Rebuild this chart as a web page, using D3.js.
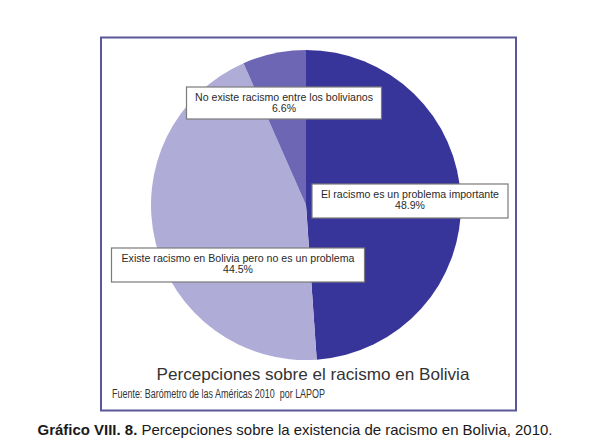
<!DOCTYPE html>
<html>
<head>
<meta charset="utf-8">
<script src="https://cdn.jsdelivr.net/npm/d3@7"></script>
<style>
  html, body { margin: 0; padding: 0; background: #ffffff; }
  svg { display: block; font-family: "Liberation Sans", Arial, sans-serif; }
  text { white-space: pre; }
</style>
</head>
<body>
<svg id="chart" width="589" height="443"></svg>
<script>
// ---- data ----
const categories = [
  "El racismo es un problema importante",
  "Existe racismo en Bolivia pero no es un problema",
  "No existe racismo entre los bolivianos"
];
const values = [48.9, 44.5, 6.6];
const valueLabels = ["48.9%", "44.5%", "6.6%"];
const chartTitle = "Percepciones sobre el racismo en Bolivia";
const sourceText = "Fuente: Barómetro de las Américas 2010  por LAPOP";
const captionBold = "Gráfico VIII. 8.";
const captionText = " Percepciones sobre la existencia de racismo en Bolivia, 2010.";

// ---- styles / layout ----
const colors = ["#38359a", "#b0acd8", "#6c66b4"];
const cx = 306, cy = 205, r = 155;
const boxes = [
  {cx: 410, y: 184, w: 196, h: 34, tw: 178},
  {cx: 238, y: 248, w: 253, h: 34, tw: 233},
  {cx: 284, y: 87,  w: 195, h: 32, tw: 178}
];

const svg = d3.select("#chart");

function fit(sel, target) {
  const n = sel.node();
  const fs = parseFloat(sel.attr("font-size"));
  const w = n.getComputedTextLength();
  sel.attr("font-size", (fs * target / w).toFixed(2));
}

// frame
svg.append("rect")
  .attr("x", 101).attr("y", 37.5)
  .attr("width", 415).attr("height", 373)
  .attr("fill", "#ffffff")
  .attr("stroke", "#5a5898").attr("stroke-width", 2);

// pie
const pie = d3.pie().sort(null).value(d => d)
  .startAngle(0).endAngle(2 * Math.PI);
const arc = d3.arc().innerRadius(0).outerRadius(r);
const arcs = pie(values);

svg.append("g").attr("transform", `translate(${cx},${cy})`)
  .selectAll("path").data(arcs).join("path")
  .attr("d", arc)
  .attr("fill", (d, i) => colors[i]);

// label boxes
const lab = svg.append("g").selectAll("g").data(categories).join("g");
lab.append("rect")
  .attr("x", (d, i) => boxes[i].cx - boxes[i].w / 2)
  .attr("y", (d, i) => boxes[i].y)
  .attr("width", (d, i) => boxes[i].w)
  .attr("height", (d, i) => boxes[i].h)
  .attr("fill", "#ffffff")
  .attr("stroke", "#7a7a7a").attr("stroke-width", 1.2);
lab.append("text")
  .attr("x", (d, i) => boxes[i].cx)
  .attr("y", (d, i) => boxes[i].y + 14)
  .attr("text-anchor", "middle")
  .attr("font-size", 10.5)
  .attr("textLength", (d, i) => boxes[i].tw)
  .attr("lengthAdjust", "spacingAndGlyphs")
  .attr("fill", "#2a2a2a")
  .text(d => d);
lab.append("text")
  .attr("x", (d, i) => boxes[i].cx)
  .attr("y", (d, i) => boxes[i].y + 25)
  .attr("text-anchor", "middle")
  .attr("font-size", 10.5)
  .attr("fill", "#2a2a2a")
  .text((d, i) => valueLabels[i]);

// title and source
const t = svg.append("text")
  .attr("x", 313).attr("y", 380)
  .attr("text-anchor", "middle")
  .attr("font-size", 17)
  .attr("fill", "#333333")
  .text(chartTitle);
fit(t, 313);

svg.append("text")
  .attr("x", 112).attr("y", 398)
  .attr("font-size", 12.5)
  .attr("textLength", 213)
  .attr("lengthAdjust", "spacingAndGlyphs")
  .attr("fill", "#333333")
  .text(sourceText);

// caption
const c = svg.append("text")
  .attr("x", 295).attr("y", 435)
  .attr("text-anchor", "middle")
  .attr("font-size", 14.5)
  .attr("textLength", 515)
  .attr("lengthAdjust", "spacingAndGlyphs")
  .attr("fill", "#1a1a1a");
c.append("tspan").attr("font-weight", "bold").text(captionBold);
c.append("tspan").text(captionText);
</script>
</body>
</html>
